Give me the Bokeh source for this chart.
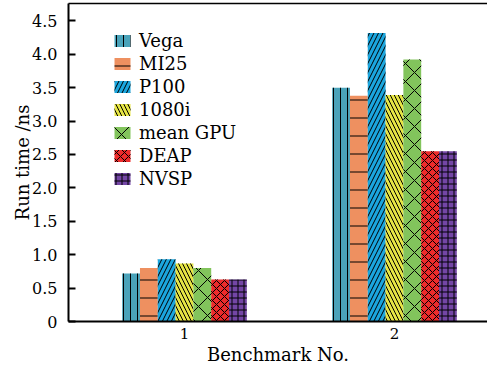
from bokeh.plotting import figure
from bokeh.models import (ColumnDataSource, FixedTicker, LinearAxis, Range1d,
                          PrintfTickFormatter)
from bokeh.embed import file_html
from bokeh.resources import INLINE

# ---- data ----
benchmarks = [1, 2]
series = ["Vega", "MI25", "P100", "1080i", "mean GPU", "DEAP", "NVSP"]
vega = [0.72, 3.50]
mi25 = [0.80, 3.38]
p100 = [0.93, 4.32]
gtx1080i = [0.87, 3.39]
mean_gpu = [0.80, 3.92]
deap = [0.63, 2.55]
nvsp = [0.63, 2.55]
values = [vega, mi25, p100, gtx1080i, mean_gpu, deap, nvsp]
y_ticks = [0, 0.5, 1.0, 1.5, 2.0, 2.5, 3.0, 3.5, 4.0, 4.5]

# ---- styles ----
colors = ["#4AA3BA", "#EE9060", "#1BA6DE", "#E6E545", "#82C45C", "#EC2B2B", "#7446A6"]
hatches = ["|", "-", "/", "\\", "x", "x", "+"]
hatch_scales = [7, 18, 9, 8, 18, 8, 6]
FONT = "DejaVu Serif"
bar_w = 0.0848

p = figure(width=487, height=367, output_backend="svg", toolbar_location=None,
           x_range=Range1d(0.4476, 2.443), y_range=Range1d(0, 4.76),
           min_border_left=68, min_border_right=0, min_border_top=3,
           min_border_bottom=45)
p.outline_line_color = None
p.xgrid.visible = False
p.ygrid.visible = False

n = len(series)
for i, (name, vals) in enumerate(zip(series, values)):
    xs = [b + (i - (n - 1) / 2) * bar_w for b in benchmarks]
    src = ColumnDataSource(dict(x=xs, top=vals))
    p.vbar(x="x", top="top", width=bar_w, bottom=0, source=src,
           fill_color=colors[i], line_color=None,
           hatch_pattern=hatches[i], hatch_scale=hatch_scales[i],
           hatch_color="black", hatch_weight=1.0, legend_label=name)

# y axis
ya = p.yaxis[0]
ya.ticker = FixedTicker(ticks=y_ticks)
ya.formatter = PrintfTickFormatter(format="%.1f")
ya.major_label_overrides = {0: "0"}
ya.major_tick_in = 7
ya.major_tick_out = 0
ya.minor_tick_line_color = None
ya.axis_line_width = 2
ya.major_tick_line_width = 2
ya.major_label_text_font = FONT
ya.major_label_text_font_size = "16px"
ya.major_label_text_color = "black"
ya.major_label_standoff = 11
ya.axis_label = "Run time /ns"
ya.axis_label_text_font = FONT
ya.axis_label_text_font_size = "18px"
ya.axis_label_text_font_style = "normal"
ya.axis_label_text_color = "black"
ya.axis_label_standoff = -4

# x axis
xa = p.xaxis[0]
xa.ticker = FixedTicker(ticks=benchmarks)
xa.major_tick_in = 0
xa.major_tick_out = 0
xa.minor_tick_line_color = None
xa.axis_line_width = 2
xa.major_label_text_font = FONT
xa.major_label_text_font_size = "15px"
xa.major_label_text_color = "black"
xa.major_label_standoff = 6
xa.axis_label = "Benchmark No."
xa.axis_label_text_font = FONT
xa.axis_label_text_font_size = "18px"
xa.axis_label_text_font_style = "normal"
xa.axis_label_text_color = "black"
xa.axis_label_standoff = 2

# top border line
top = LinearAxis(ticker=FixedTicker(ticks=[]), major_tick_in=0, major_tick_out=0,
                 minor_tick_line_color=None, major_label_text_font_size="0px",
                 axis_line_width=1.5)
p.add_layout(top, "above")

# legend
lg = p.legend[0]
lg.location = (44, 131)
lg.border_line_color = None
lg.background_fill_alpha = 0
lg.padding = 4
lg.margin = 0
lg.spacing = 0
lg.glyph_width = 20
lg.glyph_height = 15
lg.label_height = 23
lg.label_standoff = 7
lg.label_text_font = FONT
lg.label_text_font_size = "18px"
lg.label_text_color = "black"

open("out.html", "w").write(file_html(p, INLINE))
